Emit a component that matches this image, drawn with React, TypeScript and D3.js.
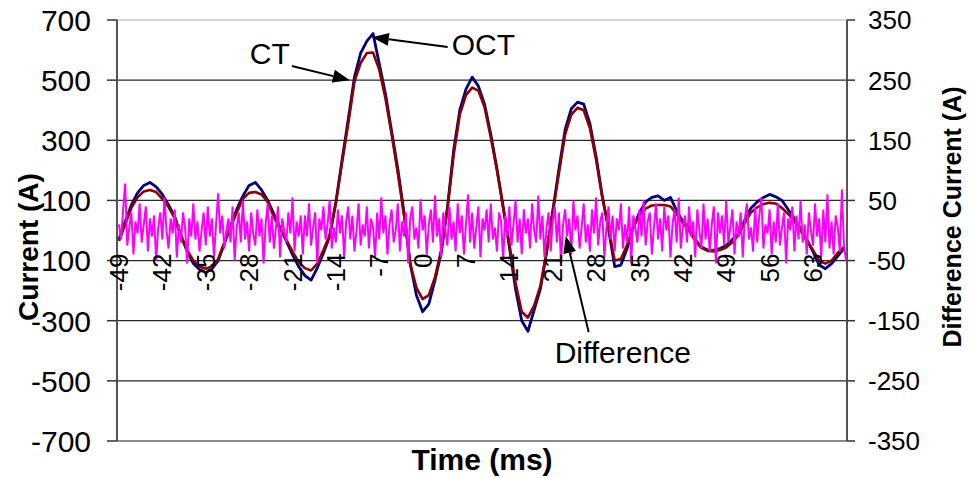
import * as d3 from "d3";

const FONT = "Arial, 'Liberation Sans', sans-serif";

// sampling: CT / OCT every 1 ms, difference three times per ms, starting at -49 ms
const firstSample = -49;
const ctStep = 1;
const diffStep = 1 / 3;

// CT current (A), t = -49 .. 68 ms
const ctCurrent = [
  -35, 20, 75, 110, 130, 135, 128, 105, 78, 40,
  -20, -65, -100, -120, -127, -120, -95, -40, 10, 60,
  105, 125, 128, 120, 95, 45, 5, -30, -70, -105,
  -125, -133, -110, -65, -15, 90, 225, 355, 495, 557,
  590, 592, 535, 440, 320, 190, 50, -110, -190, -228,
  -215, -155, -65, 70, 250, 385, 450, 475, 465, 410,
  310, 200, 75, -45, -175, -270, -290, -250, -185, -70,
  60, 190, 320, 385, 408, 400, 340, 235, 110, 10,
  -100, -95, -48, 10, 50, 73, 83, 85, 85, 80,
  55, 25, 0, -35, -58, -68, -70, -65, -57, -38,
  -15, 25, 60, 77, 88, 92, 90, 75, 55, 30,
  0, -35, -65, -100, -110, -100, -75, -55,
];

// OCT current (A), t = -49 .. 68 ms
const octCurrent = [
  -30, 30, 85, 125, 150, 160, 145, 120, 85, 45,
  -15, -70, -110, -130, -140, -128, -100, -45, 15, 70,
  115, 150, 160, 135, 100, 55, 10, -35, -80, -120,
  -150, -165, -125, -75, -20, 95, 235, 370, 510, 590,
  630, 655, 555, 455, 330, 205, 60, -110, -215, -270,
  -245, -165, -75, 75, 265, 400, 470, 510, 480, 420,
  320, 205, 80, -55, -195, -300, -335, -265, -195, -75,
  65, 205, 335, 405, 427, 420, 355, 245, 115, 5,
  -120, -115, -60, 10, 60, 95, 110, 115, 100, 110,
  65, 30, 10, -30, -55, -65, -65, -60, -50, -30,
  -10, 35, 75, 95, 110, 120, 112, 100, 70, 40,
  5, -30, -70, -115, -127, -110, -85, -60,
];

// difference current (A, secondary axis), t = -49 .. 68.3 ms
const diffCurrent = [
  10, -15, 35, 78, -25, 5, 30, -40, 15, -5, 45, -20, 10, 40, -35,
  20, -10, 25, -50, 5, 30, -15, 55, 0, -30, 20, -5, 35, -45, 10,
  -20, 30, 5, -55, 20, -10, 45, -15, 15, -35, 0, 30, -25, 40, -10,
  20, -45, 10, 62, -5, 25, -30, 0, 20, -20, 40, -50, 5, 30, -20,
  50, -15, 15, -35, 30, -5, -25, 35, -10, 20, -55, 10, 45, -20, 25,
  -30, 5, 40, -45, 20, 0, -20, 30, -5, 55, -35, 15, -10, 25, -40,
  25, -10, 45, -25, 5, 30, -55, 20, 0, 40, -15, 10, 50, -30, 5,
  -20, 35, -5, 25, -45, 15, 40, -15, 25, -35, 0, 45, -25, 10, -10,
  40, -30, 20, 5, -45, 30, -15, 55, -5, 25, -40, 10, 35, -20, 0,
  45, -35, 15, -10, 30, -55, 20, 40, -15, 5, -30, 52, 0, 25, -40,
  10, 35, -20, 58, -10, 20, -45, 30, 0, -25, 40, -15, 15, -35, 45,
  -5, 25, -40, 10, 60, -20, 30, -30, 5, 40, -45, 20, 0, 35, -20,
  45, -15, 5, -35, 30, 15, -50, 25, -10, 40, -25, 10, 50, -20, 20,
  -40, 35, -5, 20, -30, 45, 0, -20, 58, -15, 25, -45, 5, 30, -35,
  15, 40, -20, 30, -55, 10, 35, -10, 20, -40, 50, 0, 25, -30, 5,
  45, -20, 10, -35, 35, -5, 55, -25, 15, 30, -45, 5, 40, -15, 25,
  -35, 20, 0, 45, -30, 10, -20, 40, -55, 25, 5, -20, 35, -10, 50,
  -25, 15, 30, -40, 5, 45, -15, 20, -35, 40, 0, 25, -45, 10, 35,
  -20, 55, -30, 5, 25, -20, 40, -10, 15, -45, 35, 0, -30, 45, -15,
  20, -35, 10, 40, -55, 30, -5, 25, -25, 50, -20, 5, 35, -40, 15,
  -10, 30, -45, 20, 45, -15, 5, -35, 40, -20, 25, 55, -30, 10, -5,
  35, -40, 15, -20, 45, -25, 5, 30, -55, 20, 0, 40, -35, 25, -15,
  50, -20, 10, -40, 30, 0, -25, 45, -10, 20, -45, 35, -20, 60, -30,
  15, -40, 25, 5, -35, 68, -25, -50,
];

const timeTicks = [-49, -42, -35, -28, -21, -14, -7, 0, 7, 14, 21, 28, 35, 42, 49, 56, 63];
const leftTicks = [700, 500, 300, 100, -100, -300, -500, -700];
const leftTickLabels = ["700", "500", "300", "100", "100", "-300", "-500", "-700"];
const rightTicks = [350, 250, 150, 50, -50, -150, -250, -350];

const W = 969;
const H = 478;
const plot = { left: 117, right: 847, top: 20, bottom: 441 };

function Arrow({ x1, y1, x2, y2 }: { x1: number; y1: number; x2: number; y2: number }) {
  const a = Math.atan2(y2 - y1, x2 - x1);
  const len = 17;
  const half = 6.5;
  const bx = x2 - len * Math.cos(a);
  const by = y2 - len * Math.sin(a);
  const p1 = [bx + half * Math.sin(a), by - half * Math.cos(a)];
  const p2 = [bx - half * Math.sin(a), by + half * Math.cos(a)];
  return (
    <g>
      <line x1={x1} y1={y1} x2={bx} y2={by} stroke="#000" strokeWidth={2} />
      <path d={`M${x2},${y2}L${p1[0]},${p1[1]}L${p2[0]},${p2[1]}Z`} fill="#000" />
    </g>
  );
}

export default function App() {
  const x = d3.scaleLinear().domain([-49.32, 68.49]).range([plot.left, plot.right]);
  const yL = d3.scaleLinear().domain([-700, 700]).range([plot.bottom, plot.top]);
  const yR = d3.scaleLinear().domain([-350, 350]).range([plot.bottom, plot.top]);

  const lineL = d3
    .line<number>()
    .x((_, i) => x(firstSample + i * ctStep))
    .y((d) => yL(d));
  const lineR = d3
    .line<number>()
    .x((_, i) => x(firstSample + i * diffStep))
    .y((d) => yR(d));

  const xAxisY = yL(-100);

  return (
    <svg
      width={W}
      height={H}
      style={{ position: "absolute", left: 0, top: 0, background: "#fff" }}
      fontFamily={FONT}
    >
      <rect x={0} y={0} width={W} height={H} fill="#fff" />

      {/* plot frame */}
      <line x1={plot.left} x2={plot.right} y1={plot.top} y2={plot.top} stroke="#c8c8c8" strokeWidth={1.5} />
      <line x1={plot.left} x2={plot.right} y1={plot.bottom} y2={plot.bottom} stroke="#8a8a8a" strokeWidth={2} />

      {/* gridlines */}
      {leftTicks
        .filter((v) => v !== 700 && v !== -700)
        .map((v) => (
          <line key={v} x1={plot.left} x2={plot.right} y1={yL(v)} y2={yL(v)} stroke="#2a2a2a" strokeWidth={1.2} />
        ))}

      {/* left axis */}
      <line x1={plot.left} x2={plot.left} y1={plot.top} y2={plot.bottom} stroke="#555" strokeWidth={2} />
      {leftTicks.map((v, i) => (
        <g key={v}>
          <line x1={plot.left - 10} x2={plot.left} y1={yL(v)} y2={yL(v)} stroke="#333" strokeWidth={1.5} />
          <text x={91} y={yL(v)} dy="0.36em" textAnchor="end" fontSize={30} fill="#000">
            {leftTickLabels[i]}
          </text>
        </g>
      ))}

      {/* right axis */}
      <line x1={plot.right} x2={plot.right} y1={plot.top} y2={plot.bottom} stroke="#555" strokeWidth={2} />
      {rightTicks.map((v) => (
        <g key={v}>
          <line x1={plot.right} x2={plot.right + 8} y1={yR(v)} y2={yR(v)} stroke="#333" strokeWidth={1.5} />
          <text x={868} y={yR(v)} dy="0.36em" fontSize={26} fill="#000">
            {v}
          </text>
        </g>
      ))}

      {/* series */}
      <path d={lineL(octCurrent) ?? ""} fill="none" stroke="#000080" strokeWidth={2.8} strokeLinejoin="round" />
      <path d={lineL(ctCurrent) ?? ""} fill="none" stroke="#8b0000" strokeWidth={2.6} strokeLinejoin="round" />
      <path d={lineR(diffCurrent) ?? ""} fill="none" stroke="#ff00ff" strokeWidth={2} />

      {/* time axis labels */}
      {timeTicks.map((t) => (
        <text
          key={t}
          transform={`translate(${x(t)},${xAxisY - 7}) rotate(-90)`}
          dy="0.35em"
          textAnchor="end"
          fontSize={26}
          fill="#000"
        >
          {t}
        </text>
      ))}

      {/* annotations */}
      <text x={x(-27.9)} y={yL(553)} fontSize={30}>CT</text>
      <Arrow x1={x(-21.1)} y1={yL(547)} x2={x(-11.75)} y2={yL(500)} />
      <text x={x(4.7)} y={yL(583)} fontSize={30}>OCT</text>
      <Arrow x1={x(4.05)} y1={yL(610)} x2={x(-8.2)} y2={yL(643)} />
      <text x={x(32.3)} y={yR(-220)} fontSize={30} textAnchor="middle">Difference</text>
      <Arrow x1={x(26.8)} y1={yR(-169)} x2={x(23.1)} y2={yR(-9)} />

      {/* axis titles */}
      <text x={(plot.left + plot.right) / 2} y={470} textAnchor="middle" fontSize={30} fontWeight="bold">
        Time (ms)
      </text>
      <text transform="translate(28,247) rotate(-90)" dy="0.35em" textAnchor="middle" fontSize={28} fontWeight="bold">
        Current (A)
      </text>
      <text transform="translate(952,217) rotate(-90)" dy="0.35em" textAnchor="middle" fontSize={25} fontWeight="bold">
        Difference Current (A)
      </text>
    </svg>
  );
}
